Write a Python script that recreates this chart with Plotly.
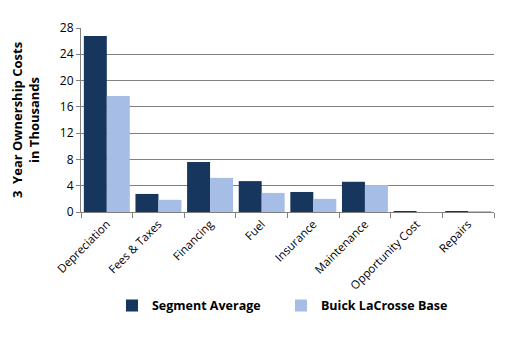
import plotly.graph_objects as go

categories = ["Depreciation", "Fees & Taxes", "Financing", "Fuel", "Insurance",
              "Maintenance", "Opportunity Cost", "Repairs"]
segment_avg = [26.8, 2.75, 7.6, 4.7, 3.05, 4.6, 0.15, 0.15]
buick = [17.65, 1.85, 5.2, 2.9, 2.0, 4.1, 0.0, 0.1]
y_ticks = [0, 4, 8, 12, 16, 20, 24, 28]

fig = go.Figure()
fig.add_trace(go.Bar(name="Segment Average", x=categories, y=segment_avg,
                     marker=dict(color="#17365d", line=dict(width=0))))
fig.add_trace(go.Bar(name="Buick LaCrosse Base", x=categories, y=buick,
                     marker=dict(color="#a6bde6", line=dict(width=0))))

fig.update_layout(
    width=510, height=350,
    margin=dict(l=81, r=16, t=28, b=138),
    paper_bgcolor="white", plot_bgcolor="white",
    barmode="group", bargap=0.11, bargroupgap=0,
    font=dict(family="Open Sans, Liberation Sans, sans-serif", size=11, color="#000000"),
    showlegend=True,
    legend=dict(orientation="h", x=0.075, xanchor="left", y=-0.51, yanchor="middle",
                font=dict(size=12.5, color="#000000", family="Open Sans, sans-serif", weight="bold"),
                itemwidth=30, entrywidth=124, bgcolor="rgba(0,0,0,0)"),
    xaxis=dict(type="category", tickangle=-45, showline=True, linecolor="#808080",
               linewidth=1, ticks="outside", tickson="boundaries", ticklen=5,
               tickcolor="#808080", showgrid=False,
               tickfont=dict(size=11.5, family="Open Sans, sans-serif", color="#000000")),
    yaxis=dict(range=[0, 28], tickvals=y_ticks, showgrid=True, gridcolor="#808080",
               gridwidth=1, showline=True, linecolor="#808080", ticks="outside",
               ticklen=4, tickcolor="#808080", zeroline=False,
               tickfont=dict(size=12, family="Open Sans, sans-serif", color="#000000"),
               title=dict(text="3  Year Ownership Costs<br>in Thousands", standoff=17,
                          font=dict(size=13, family="Open Sans, sans-serif",
                                    color="#000000", weight="bold"))),
)

fig.write_html("out.html")
